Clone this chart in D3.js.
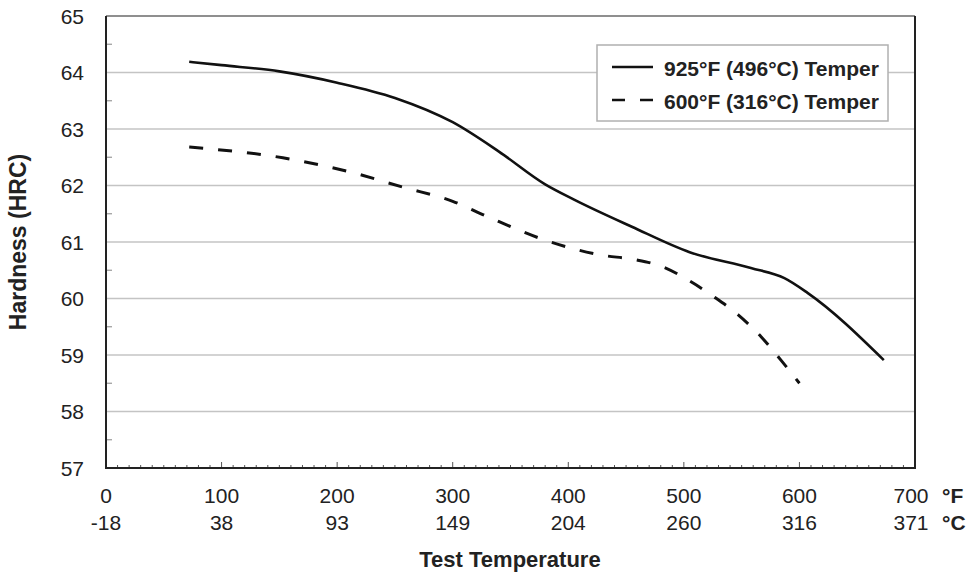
<!DOCTYPE html>
<html>
<head>
<meta charset="utf-8">
<script src="https://cdn.jsdelivr.net/npm/d3@7"></script>
<style>
  body { margin: 0; background: #fff; }
  svg { font-family: "Liberation Sans", Arial, sans-serif; }
</style>
</head>
<body>
<div id="chart"></div>
<script>
// Tempered at 925F: hardness vs test temperature
const tempSolid = [72, 100, 150, 200, 250, 300, 340, 380, 405, 455, 505, 558, 587, 607, 673];
const hrcSolid  = [64.19, 64.13, 64.02, 63.82, 63.55, 63.12, 62.6, 62.02, 61.75, 61.27, 60.82, 60.54, 60.36, 60.1, 58.91];

// Tempered at 600F
const tempDash = [72, 153, 211, 257, 300, 330, 379, 428, 457, 482, 505, 526, 547, 567, 584, 600];
const hrcDash  = [62.68, 62.49, 62.24, 61.97, 61.72, 61.45, 61.04, 60.77, 60.69, 60.56, 60.31, 60.03, 59.71, 59.32, 58.91, 58.5];

const fTicks = [0, 100, 200, 300, 400, 500, 600, 700];
const cTicks = ["-18", "38", "93", "149", "204", "260", "316", "371"];
const yTicks = [57, 58, 59, 60, 61, 62, 63, 64, 65];
const legendLabels = ["925°F (496°C) Temper", "600°F (316°C) Temper"];

const W = 972, H = 575;
const m = { left: 106, right: 57, top: 16, bottom: 107 };

const svg = d3.select("#chart").append("svg").attr("width", W).attr("height", H);

const x = d3.scaleLinear().domain([0, 700]).range([m.left, W - m.right]);
const y = d3.scaleLinear().domain([57, 65]).range([H - m.bottom, m.top]);

//grid
svg.append("g").selectAll("line").data(yTicks.slice(1, -1)).enter().append("line")
  .attr("x1", x(0)).attr("x2", x(700))
  .attr("y1", d => y(d)).attr("y2", d => y(d))
  .attr("stroke", "#c4c4c4").attr("stroke-width", 1.5);

//minor y ticks (half units)
svg.append("g").selectAll("line").data(d3.range(57.5, 65, 1)).enter().append("line")
  .attr("x1", x(0)).attr("x2", x(0) + 6)
  .attr("y1", d => y(d)).attr("y2", d => y(d))
  .attr("stroke", "#999").attr("stroke-width", 1.2);

//x ticks every 10F, taller at hundreds
svg.append("g").selectAll("line").data(d3.range(10, 700, 10)).enter().append("line")
  .attr("x1", d => x(d)).attr("x2", d => x(d))
  .attr("y1", y(57)).attr("y2", d => y(57) - (d % 100 === 0 ? 6 : 3))
  .attr("stroke", "#555").attr("stroke-width", 1);

//frame
svg.append("line").attr("x1", x(0)).attr("x2", x(700)).attr("y1", y(65)).attr("y2", y(65))
  .attr("stroke", "#6a6a6a").attr("stroke-width", 1.5);
svg.append("path")
  .attr("d", `M${x(0)},${y(65)}V${y(57)}H${x(700)}V${y(65)}`)
  .attr("fill", "none").attr("stroke", "#222").attr("stroke-width", 2);

//y labels
svg.append("g").selectAll("text").data(yTicks).enter().append("text")
  .attr("x", 84).attr("y", d => y(d)).attr("dy", "0.36em")
  .attr("text-anchor", "end").attr("font-size", 21).attr("fill", "#222")
  .text(d => d);

//x labels, two rows
svg.append("g").selectAll("text").data(fTicks).enter().append("text")
  .attr("x", d => x(d) - (d === 700 ? 4 : 0)).attr("y", 503)
  .attr("text-anchor", "middle").attr("font-size", 21).attr("fill", "#222")
  .text(d => d);
svg.append("g").selectAll("text").data(cTicks).enter().append("text")
  .attr("x", (d, i) => x(fTicks[i]) - (i === 7 ? 4 : 0)).attr("y", 530)
  .attr("text-anchor", "middle").attr("font-size", 21).attr("fill", "#222")
  .text(d => d);
svg.append("text").attr("x", 942).attr("y", 503).attr("font-size", 21).attr("font-weight", "bold")
  .attr("fill", "#222").text("°F");
svg.append("text").attr("x", 942).attr("y", 530).attr("font-size", 21).attr("font-weight", "bold")
  .attr("fill", "#222").text("°C");

//axis titles
svg.append("text").attr("x", 510).attr("y", 567).attr("text-anchor", "middle")
  .attr("font-size", 22).attr("font-weight", "bold").attr("fill", "#222")
  .text("Test Temperature");
svg.append("text").attr("transform", `translate(26,${(152 + 332) / 2}) rotate(-90)`)
  .attr("text-anchor", "middle").attr("font-size", 23).attr("font-weight", "bold").attr("fill", "#222")
  .text("Hardness (HRC)");

//curves
const line = d3.line().x(d => x(d[0])).y(d => y(d[1])).curve(d3.curveMonotoneX);

svg.append("path").datum(d3.zip(tempSolid, hrcSolid))
  .attr("d", line).attr("fill", "none").attr("stroke", "#111").attr("stroke-width", 2.6);

svg.append("path").datum(d3.zip(tempDash, hrcDash))
  .attr("d", line).attr("fill", "none").attr("stroke", "#111").attr("stroke-width", 3)
  .attr("stroke-dasharray", "14,15");

//legend
const lg = svg.append("g");
lg.append("rect").attr("x", 597).attr("y", 45).attr("width", 291).attr("height", 76)
  .attr("fill", "#fff").attr("stroke", "#b0b0b0").attr("stroke-width", 1.5);
legendLabels.forEach((lab, i) => {
  const ly = 67 + i * 33;
  lg.append("line").attr("x1", 612).attr("x2", 653).attr("y1", ly).attr("y2", ly)
    .attr("stroke", "#111").attr("stroke-width", 2.6)
    .attr("stroke-dasharray", i === 1 ? "13,15" : null);
  lg.append("text").attr("x", 664).attr("y", ly + 1).attr("dy", "0.36em")
    .attr("font-size", 21).attr("font-weight", "bold").attr("fill", "#222")
    .text(lab);
});
</script>
</body>
</html>
